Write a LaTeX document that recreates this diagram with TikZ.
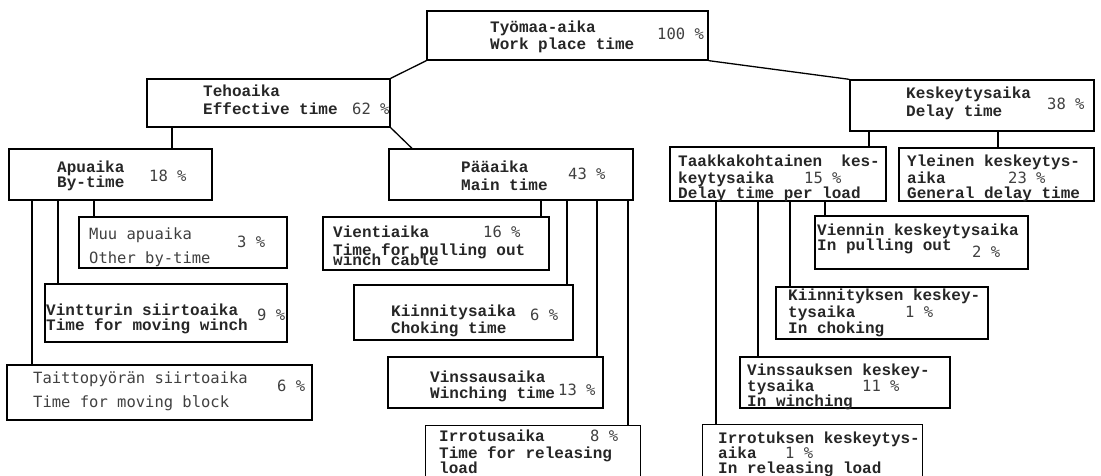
\documentclass[tikz,border=0pt]{standalone}
\usepackage{fontspec}
\setmonofont{Liberation Mono}
\newfontfamily\lightmono{DejaVu Sans Mono}
\usetikzlibrary{fit}
\tikzset{
  box/.style={draw, line width=1.3pt, inner sep=0pt, rectangle},
  obox/.style={inner sep=0pt, rectangle},
  tx/.style={font=\ttfamily\bfseries\fontsize{16}{17}\selectfont, text=black!85, inner sep=0pt, anchor=base west},
  lt/.style={font=\lightmono\fontsize{15.5}{17}\selectfont, text=black!75, inner sep=0pt, anchor=base west},
  con/.style={line width=1.3pt},
}
\newcommand\bx[6][box]{\node[#1, fit={(#3,#4) (#5,#6)}] (#2) {};}
\newcommand\tline[5][tx]{\node[#1] (#2) at (#3,#4) {#5};}
\begin{document}
\begin{tikzpicture}[x=1pt,y=-1pt]
\useasboundingbox (0,0) rectangle (1101,476);
% boxes
\bx{top}{427}{11}{708}{60}
\bx{teho}{147}{79}{390}{127}
\bx{kesk}{850}{80}{1094}{131}
\bx{apu}{9}{149}{212}{200}
\bx{muu}{79}{217}{287}{268}
\bx{vint}{45}{284}{287}{342}
\bx{tait}{7}{365}{312}{420}
\bx{paa}{389}{149}{633}{200}
\bx{vien}{323}{217}{549}{270}
\bx{kiin}{354}{285}{573}{340}
\bx{vins}{388}{357}{603}{408}
\bx[obox]{irro}{426}{426}{640}{476}
\bx{taak}{670}{147}{886}{201}
\bx{ylei}{899}{148}{1094}{201}
\bx{vienn}{815}{216}{1028}{269}
\bx{kiinn}{776}{287}{988}{339}
\bx{vinsk}{740}{357}{950}{408}
\bx[obox]{irrk}{703}{425}{922}{476}
\draw[con] (irro.south west) |- (irro.north east) -- (irro.south east);
\draw[con] (irrk.south west) |- (irrk.north east) -- (irrk.south east);
% connectors
\draw[con] (top.south west) -- (teho.north east);
\draw[con] (top.south east) -- (kesk.north west);
\draw[con] (teho.south -| 172,0) -- (apu.north -| 172,0);
\draw[con] (teho.south east) -- (paa.north -| 412,0);
\draw[con] (apu.south -| 32,0) -- (tait.north -| 32,0);
\draw[con] (apu.south -| 58,0) -- (vint.north -| 58,0);
\draw[con] (apu.south -| 94,0) -- (muu.north -| 94,0);
\draw[con] (paa.south -| 541,0) -- (vien.north -| 541,0);
\draw[con] (paa.south -| 567,0) -- (kiin.north -| 567,0);
\draw[con] (paa.south -| 597,0) -- (vins.north -| 597,0);
\draw[con] (paa.south -| 628,0) -- (irro.north -| 628,0);
\draw[con] (kesk.south -| 869,0) -- (taak.north -| 869,0);
\draw[con] (kesk.south -| 998,0) -- (ylei.north -| 998,0);
\draw[con] (taak.south -| 716,0) -- (irrk.north -| 716,0);
\draw[con] (taak.south -| 758,0) -- (vinsk.north -| 758,0);
\draw[con] (taak.south -| 790,0) -- (kiinn.north -| 790,0);
\draw[con] (taak.south -| 825,0) -- (vienn.north -| 825,0);
% texts
\tline{top1}{490}{33}{Työmaa-aika}
\tline{top2}{490}{50}{Work place time}
\tline[lt]{topp}{657}{40}{100 \%}
\tline{teho1}{203}{97}{Tehoaika}
\tline{teho2}{203}{115}{Effective time}
\tline[lt]{tehop}{352}{115}{62 \%}
\tline{kesk1}{906}{99}{Keskeytysaika}
\tline{kesk2}{906}{117}{Delay time}
\tline[lt]{keskp}{1047}{110}{38 \%}
\tline{apu1}{57}{172}{Apuaika}
\tline{apu2}{57}{188}{By-time}
\tline[lt]{apup}{149}{182}{18 \%}
\tline[lt]{muu1}{89}{239}{Muu apuaika}
\tline[lt]{muu2}{89}{263}{Other by-time}
\tline[lt]{muup}{237}{247}{3 \%}
\tline{vint1}{46}{315}{Vintturin siirtoaika}
\tline{vint2}{46}{330}{Time for moving winch}
\tline[lt]{vintp}{257}{320}{9 \%}
\tline[lt]{tait1}{33}{383}{Taittopyörän siirtoaika}
\tline[lt]{tait2}{33}{407}{Time for moving block}
\tline[lt]{taitp}{277}{391}{6 \%}
\tline{paa1}{461}{173}{Pääaika}
\tline{paa2}{461}{190}{Main time}
\tline[lt]{paap}{568}{179}{43 \%}
\tline{vien1}{333}{237}{Vientiaika}
\tline[lt]{vienp}{483}{237}{16 \%}
\tline{vien2}{333}{255}{Time for pulling out}
\tline{vien3}{333}{265}{winch cable}
\tline{kiin1}{391}{316}{Kiinnitysaika}
\tline[lt]{kiinp}{530}{320}{6 \%}
\tline{kiin2}{391}{333}{Choking time}
\tline{vins1}{430}{382}{Vinssausaika}
\tline{vins2}{430}{398}{Winching time}
\tline[lt]{vinsp}{558}{395}{13 \%}
\tline{irro1}{439}{441}{Irrotusaika}
\tline[lt]{irrop}{590}{441}{8 \%}
\tline{irro2}{439}{458}{Time for releasing}
\tline{irro3}{439}{473}{load}
\tline{taak1}{678}{167}{Taakkakohtainen\ \ kes-}
\tline{taak2}{678}{183}{keytysaika}
\tline[lt]{taakp}{804}{184}{15 \%}
\tline{taak3}{678}{199}{Delay time per load}
\tline{ylei1}{907}{167}{Yleinen keskeytys-}
\tline{ylei2}{907}{183}{aika}
\tline[lt]{yleip}{1008}{184}{23 \%}
\tline{ylei3}{907}{199}{General delay time}
\tline{vienn1}{817}{235}{Viennin keskeytysaika}
\tline{vienn2}{817}{251}{In pulling out}
\tline[lt]{viennp}{972}{257}{2 \%}
\tline{kiinn1}{788}{300}{Kiinnityksen keskey-}
\tline{kiinn2}{788}{317}{tysaika}
\tline[lt]{kiinnp}{905}{317}{1 \%}
\tline{kiinn3}{788}{333}{In choking}
\tline{vinsk1}{747}{375}{Vinssauksen keskey-}
\tline{vinsk2}{747}{391}{tysaika}
\tline[lt]{vinskp}{862}{391}{11 \%}
\tline{vinsk3}{747}{406}{In winching}
\tline{irrk1}{718}{443}{Irrotuksen keskeytys-}
\tline{irrk2}{718}{458}{aika}
\tline[lt]{irrkp}{785}{458}{1 \%}
\tline{irrk3}{718}{473}{In releasing load}
\end{tikzpicture}
\end{document}
